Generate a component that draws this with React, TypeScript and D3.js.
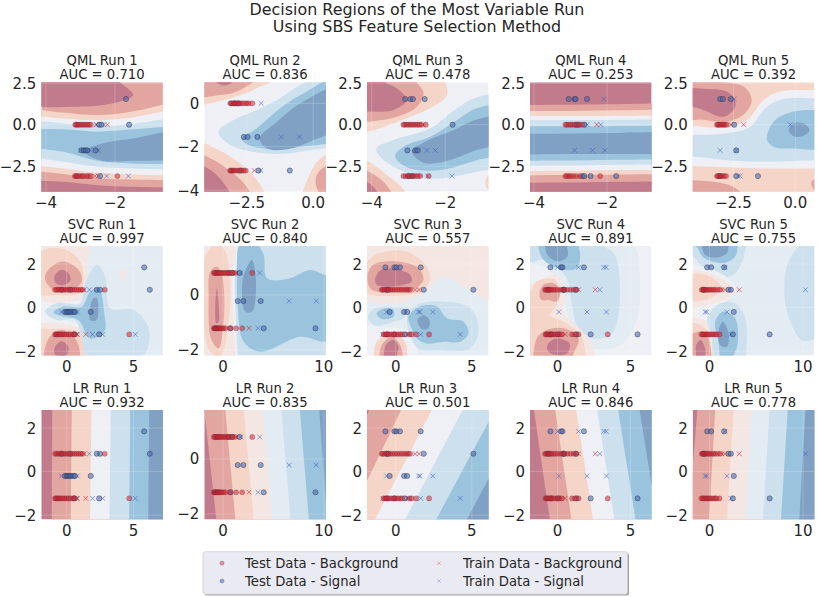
import React from "react";
import * as d3 from "d3";

// colours of the filled contour levels, seen over the axes background
const levelColors = ["#c27b8c", "#e3a5a0", "#f5d5c8", "#f4e6e3", "#eef0f5", "#e3ebf3", "#cde0ed", "#9ac3de", "#80a0c4"];

type Region = [number, string, number[][]];
// rows of points: [y, [x, x, ...]]
type Rows = [number, number[]][];

// ---- decision regions (level, side to fill, boundary)
const qml1Regions: Region[] = [
    [0, "c", [[-4.56, 1.39], [-3.11, 1.09], [-2.05, 1.29], [-1.47, 1.79], [-1.76, 2.4], [-2.14, 2.9], [-4.56, 3.1]]],
    [2, "b", [[-4.5, .99], [-3.5, .73], [-2.5, .58], [-1.5, .79], [-.3, 1.39]]],
    [4, "b", [[-4.5, .58], [-3.5, .38], [-2.5, .28], [-1.5, .44], [-.3, .93]]],
    [6, "b", [[-4.5, .28], [-3.5, .08], [-2.5, -.08], [-1.5, .04], [-.3, .44]]],
    [7, "b", [[-4.5, -.22], [-3.5, -.28], [-2.5, -.42], [-1.5, -.28], [-.3, -.08]]],
    [8, "c", [[.46, -.32], [-1.47, -.83], [-2.43, -1.17], [-2.87, -1.63], [-2.43, -2.14], [-1.47, -2.18], [.46, -1.73]]],
    [6, "b", [[-4.5, -1.37], [-3.5, -1.63], [-2.5, -2.18], [-1.5, -2.34], [-.3, -2.38]]],
    [4, "b", [[-4.5, -1.94], [-3.5, -2.24], [-2.5, -2.54], [-1.5, -2.64], [-.3, -2.7]]],
    [2, "b", [[-4.5, -2.38], [-3.5, -2.64], [-2.5, -2.9], [-1.5, -3.0], [-.3, -3.04]]],
    [1, "b", [[-4.5, -2.74], [-3.5, -2.98], [-2.5, -3.25], [-1.5, -3.31], [-.3, -3.35]]],
    [0, "b", [[-4.5, -3.35], [-3.5, -3.45], [-2.5, -3.65], [-1.5, -3.75], [-.3, -3.79]]],
];
const qml2Regions: Region[] = [
    [2, "c", [[-4.77, 0], [-3.13, .23], [-2.12, .69], [-1.36, 1.23], [-3.0, 2.0], [-4.77, 2.0]]],
    [1, "c", [[-4.77, .38], [-3.51, .38], [-2.75, .62], [-2.12, 1.23], [-3.0, 2.0], [-4.77, 2.0]]],
    [0, "c", [[-3.76, 1.15], [-3.38, .82], [-3.0, 1.0], [-2.75, 1.38], [-3.38, 1.69]]],
    [6, "c", [[-3.57, -1.31], [-3.0, -.77], [-2.25, -.38], [-1.36, .15], [-.48, .85], [1.41, 1.69], [1.41, -1.54], [-.48, -2.23], [-1.74, -2.31], [-3.13, -1.92]]],
    [7, "c", [[-2.69, -1.62], [-2.12, -1.15], [-1.24, -.23], [-.48, .38], [1.41, 1.38], [1.41, -1.38], [-.48, -2], [-1.74, -2.08], [-2.44, -1.92]]],
    [8, "c", [[-2.02, -1.62], [-1.36, -.85], [-.48, 0], [1.41, .92], [1.41, -.77], [.03, -1.69], [-.98, -2.12], [-1.74, -2.08]]],
    [2, "c", [[-4.9, -1.46], [-4.12, -1.82], [-3.0, -2.54], [-2.12, -3.54], [-1.62, -5.08], [-4.9, -5.08]]],
    [1, "c", [[-4.9, -2], [-4.12, -2.38], [-3.26, -3], [-2.5, -3.85], [-2.12, -5.08], [-4.9, -5.08]]],
    [0, "c", [[-4.9, -2.46], [-4.12, -2.89], [-3.51, -3.46], [-2.88, -5.08], [-4.9, -5.08]]],
    [2, "c", [[1.41, -2.15], [.28, -2.54], [-.16, -3.38], [-.48, -5.08], [1.41, -5.08]]],
    [1, "c", [[1.41, -2.77], [.34, -3], [.09, -3.54], [.34, -4.31], [1.41, -4.77]]],
];
const qml3Regions: Region[] = [
    [2, "c", [[-4.68, -.42], [-4.13, -.42], [-3.14, .32], [-2.41, .99], [-1.95, 1.79], [-2, 2.56], [-2.23, 3.31], [-4.68, 3.31]]],
    [1, "c", [[-4.68, .18], [-4.13, .18], [-3.32, .48], [-2.77, 1.09], [-2.59, 1.9], [-2.77, 2.56], [-2.95, 3.31], [-4.68, 3.31]]],
    [0, "c", [[-4.68, .83], [-4.13, .79], [-3.41, .89], [-3.05, 1.49], [-3.32, 2.2], [-3.64, 2.56], [-3.95, 3.31], [-4.68, 3.31]]],
    [6, "c", [[-3.88, -1.43], [-3.41, -.93], [-2.41, -.22], [-1.68, .99], [-1.14, 1.65], [-.05, 1.79], [-.05, -2.14], [-1.14, -2.84], [-2.41, -3.25], [-3.32, -2.64], [-3.77, -1.94]]],
    [7, "c", [[-3.36, -1.83], [-3.05, -1.23], [-2.41, -.73], [-1.68, .28], [-1.14, .99], [-.05, 1.19], [-.05, -1.43], [-1.14, -2.14], [-2.14, -2.74], [-2.95, -2.64], [-3.27, -2.24]]],
    [8, "c", [[-2.91, -1.63], [-2.55, -1.03], [-1.77, -.32], [-1.14, .32], [-.05, .58], [-.05, -.73], [-1.14, -1.53], [-2.05, -2.24], [-2.59, -2.3]]],
    [2, "c", [[-4.68, -1.73], [-4.13, -2.18], [-3.59, -3.04], [-3.09, -4.05], [-2.9, -5.36], [-4.68, -5.36]]],
    [1, "c", [[-4.68, -2.44], [-4.13, -2.78], [-3.68, -3.45], [-3.41, -4.35], [-3.3, -5.36], [-4.68, -5.36]]],
    [0, "c", [[-4.68, -3.15], [-4.13, -3.45], [-3.86, -4.05], [-3.77, -5.36], [-4.68, -5.36]]],
    [2, "c", [[-.05, -2.54], [-.82, -3.04], [-.91, -3.55], [-.82, -3.95], [-.05, -4.56]]],
];
const qml4Regions: Region[] = [
    [1, "b", [[-4.5, 1.17], [-3.5, 1.2], [-2.5, 1.22], [-1.5, 1.25], [-.3, 1.3]]],
    [2, "b", [[-4.5, .83], [-3.5, .83], [-2.5, .85], [-1.5, .87], [-.3, .92]]],
    [4, "b", [[-4.5, .52], [-3.5, .52], [-2.5, .52], [-1.5, .54], [-.3, .58]]],
    [6, "b", [[-4.5, .28], [-3.5, .27], [-2.5, .28], [-1.5, .3], [-.3, .32]]],
    [7, "b", [[-4.5, -.08], [-3.5, -.1], [-2.5, -.1], [-1.5, -.08], [-.3, -.05]]],
    [8, "b", [[-4.5, -.55], [-3.5, -.55], [-2.5, -.52], [-1.5, -.48], [-.3, -.44]]],
    [7, "b", [[-4.5, -1.8], [-3.5, -1.78], [-2.5, -1.77], [-1.5, -1.77], [-.3, -1.77]]],
    [6, "b", [[-4.5, -2.18], [-3.5, -2.16], [-2.5, -2.14], [-1.5, -2.12], [-.3, -2.1]]],
    [4, "b", [[-4.5, -2.5], [-3.5, -2.46], [-2.5, -2.44], [-1.5, -2.42], [-.3, -2.4]]],
    [2, "b", [[-4.5, -2.82], [-3.5, -2.78], [-2.5, -2.76], [-1.5, -2.74], [-.3, -2.72]]],
    [1, "b", [[-4.5, -3.08], [-3.5, -3.04], [-2.5, -3.02], [-1.5, -3.0], [-.3, -2.98]]],
    [0, "b", [[-4.5, -3.52], [-3.5, -3.49], [-2.5, -3.47], [-1.5, -3.45], [-.3, -3.42]]],
];
const qml5Regions: Region[] = [
    [4, "b", [[-5, -.08], [-4.15, -.08], [-2.77, -.16], [-1.96, .28], [-1.28, 1.49], [-.61, 2], [.77, 2.1], [1.5, 2.1]]],
    [6, "b", [[-5, -.62], [-4.15, -.62], [-2.77, -.52], [-1.82, -.12], [-1.15, 1.09], [-.34, 1.59], [.77, 1.59], [1.5, 1.59]]],
    [4, "b", [[-5, -1.94], [-4.15, -1.94], [-2.77, -2.14], [-1.42, -2.24], [.77, -2.14], [1.5, -2.14]]],
    [2, "b", [[-5, -2.5], [-4.15, -2.5], [-1.42, -2.64], [.77, -2.64], [1.5, -2.64]]],
    [7, "c", [[-1.15, -.83], [-.81, .28], [-.07, .79], [.77, .89], [1.28, .85], [1.28, -1.33], [-.07, -1.43], [-.88, -1.33]]],
    [8, "c", [[-.27, -.32], [-.07, .08], [.34, .08], [.57, -.32], [.34, -.67], [-.07, -.69]]],
    [1, "c", [[-4.93, .28], [-3.85, .32], [-2.77, .18], [-2.03, .69], [-1.76, 1.49], [-2.09, 2.3], [-3.45, 2.6], [-4.93, 2.5]]],
    [0, "c", [[-4.93, 1.59], [-3.72, .89], [-2.9, .48], [-2.43, 1.09], [-2.5, 1.69], [-2.9, 2.06], [-3.58, 2.16], [-4.93, 2.1]]],
    [1, "c", [[-5, -3.35], [-4.15, -3.35], [-2.77, -3.6], [-2.2, -4.1], [-2, -5], [-5, -5]]],
    [1, "c", [[1.5, -3.3], [.7, -3.35], [.65, -3.6], [.77, -3.95], [1.5, -4.1]]],
];
const svc1Regions: Region[] = [
    [4, "c", [[-2.5, .12], [-.75, .35], [.75, .43], [1.25, .12], [0, -.57], [1.25, -.8], [-2.5, -.88]]],
    [3, "c", [[-2.5, .5], [1.38, .5], [1.55, 1.66], [1.5, 3.5], [-2.5, 3.5]]],
    [3, "c", [[-2.5, -.88], [.75, -.88], [1.63, -1.42], [1.63, -2.95], [-2.5, -2.95]]],
    [2, "c", [[-2.5, .7], [-.75, .58], [1, .66], [1.25, 1.2], [1, 2.12], [-.25, 2.7], [-1.9, 2.58]]],
    [1, "c", [[-1.63, 1.35], [-1.25, 1.82], [-.25, 2.12], [.88, 1.74], [1.13, 1.2], [.38, .82], [-1, .82]]],
    [0, "c", [[-.93, 1.43], [-.38, 1.74], [.13, 1.58], [.3, 1.28], [-.13, 1.05], [-.75, 1.08]]],
    [2, "c", [[-2.5, -1.1], [-1.25, -.98], [1, -1.18], [1.38, -2.22], [1, -2.95], [-2.5, -2.95]]],
    [1, "c", [[-1.63, -1.88], [-1.25, -1.34], [-.38, -1.03], [.63, -1.42], [1, -2.22], [.5, -2.95], [-1.63, -2.95]]],
    [0, "c", [[-.88, -1.8], [-.38, -1.54], [.13, -1.8], [0, -2.18], [-.88, -2.15]]],
    [6, "c", [[-1.63, -.18], [-.75, .2], [1, .2], [1.38, 1.12], [2.25, 1.97], [2.88, 1.43], [3.25, -.03], [5, -.11], [6.13, -.95], [5.75, -2.18], [1.5, -2.22], [1.13, -1.42], [.63, -.57], [-.75, -.57]]],
    [7, "c", [[-1, -.22], [-.25, .05], [1.13, .05], [1.75, .74], [2.38, .89], [2.83, -.34], [2.83, -1.08], [1.75, -1.42], [.88, -.57], [-.13, -.42]]],
    [8, "c", [[1.7, -.26], [2, .43], [2.25, .43], [2.25, -.57], [1.75, -.57]]],
    [3, "c", [[4, 1.51], [4.2, 1.78], [4.43, 1.51], [4.2, 1.2]]],
];
const svc2Regions: Region[] = [
    [4, "c", [[-3.9, 2.55], [1.2, 2.55], [1.16, .36], [1.46, -2.21], [1.46, -3.03], [-3.9, -3.03]]],
    [3, "c", [[-3.9, 2.55], [.95, 2.55], [.89, .24], [1.23, -2.21], [1.23, -3.03], [-3.9, -3.03]]],
    [2, "c", [[-1.85, 1.33], [-1.26, 1.7], [-.6, 1.88], [.23, 1.58], [.73, .24], [.56, -.97], [-.26, -2.21], [-1.26, -2.06], [-1.85, -1.33], [-2.3, 0]]],
    [1, "c", [[-1.42, -.12], [-1.26, .85], [-.6, 1.03], [-.1, .73], [.13, -.12], [0, -1.21], [-.43, -1.94], [-1.19, -1.58]]],
    [0, "c", [[-.76, -.36], [-.6, .24], [-.43, -.36], [-.43, -.97], [-.66, -1.03]]],
    [7, "c", [[1.56, 1.78], [2.5, 2.2], [3.54, 1.78], [4.04, 1.45], [4.37, .61], [6.36, .58], [8.68, .91], [10.2, .73], [12.3, .85], [12.3, -1.33], [10.2, -1.7], [7.68, -1.52], [3.71, -2.06], [2.05, -1.7], [1.46, -.36], [1.39, .85]]],
    [8, "c", [[1.89, .36], [2.32, .97], [2.88, 1.27], [3.28, .36], [2.88, -.61], [2.22, -.61]]],
];
const svc3Regions: Region[] = [
    [4, "c", [[-3.22, -.88], [-1, -.88], [1.05, -1.18], [1.2, -3], [-3.22, -3]]],
    [3, "t", [[-3.22, .28], [-1.89, .28], [.07, .2], [1.82, .66], [3.14, 1.43], [4.45, .97], [6.1, .28], [7.74, -.2]]],
    [2, "c", [[-1.89, .66], [-3.22, 1], [-1.89, 2.12], [-1.03, 2.51], [.72, 2.58], [2.04, 1.89], [2.26, 1.28], [1.6, .74], [.07, .55], [-1.25, .55]]],
    [1, "c", [[-1.87, 1.43], [-1.47, 1.97], [.07, 2.12], [1.49, 1.82], [1.82, 1.28], [1.27, .89], [-.37, .74], [-1.58, .82]]],
    [0, "c", [[-1.36, 1.28], [-1.03, 1.71], [-.15, 1.78], [.94, 1.51], [1.05, 1.2], [.5, 1.05], [-.59, .97], [-1.25, 1.05]]],
    [2, "c", [[-1.47, -2.22], [-1.25, -1.57], [-.26, -1.18], [.61, -1.57], [.77, -2.22], [.9, -3], [-1.6, -3]]],
    [1, "c", [[-1.07, -2.22], [-.92, -1.72], [-.26, -1.34], [.29, -1.72], [.46, -2.22], [.5, -3], [-1.1, -3]]],
    [0, "c", [[-.77, -2.03], [-.59, -1.65], [-.15, -1.49], [.18, -1.8], [.07, -2.22], [.1, -2.6], [-.7, -2.6]]],
    [6, "c", [[-1.84, -.42], [-1.36, -.03], [.07, .02], [.83, -.03], [.5, -.49], [-.15, -.65], [-1.25, -.83], [-1.69, -.65]]],
    [6, "c", [[.77, -.34], [1.38, .12], [3.14, .28], [4.89, -.03], [5.44, -.95], [4.89, -1.88], [2.92, -1.95], [1.49, -1.88], [.94, -1.26]]],
    [7, "c", [[-1.25, -.26], [-.7, -.03], [-.15, -.11], [-.15, -.42], [-.92, -.52]]],
    [7, "c", [[.83, -.42], [1.6, .05], [2.7, .05], [3.36, -.49], [4.45, -.65], [4.78, -1.18], [4.23, -1.57], [3.14, -1.57], [2.04, -1.65], [1.38, -1.42], [1.05, -.95]]],
    [8, "c", [[1.43, -.57], [1.82, -.34], [2.21, -.57], [2.15, -.95], [1.71, -.98]]],
];
const svc4Regions: Region[] = [
    [5, "c", [[-1.88, 2.12], [-.73, 1.82], [.18, 1.05], [.64, -.18], [1.33, -1.42], [2.48, -1.88], [4.31, -1.72], [5.46, -.49], [5.57, 2.12], [5.34, 2.85], [5.34, 3.5], [-1.88, 3.5]]],
    [6, "c", [[-1.88, 2.12], [-.85, 2.2], [.64, 1.35], [.99, .12], [1.44, -.95], [2.48, -1.42], [3.62, -1.26], [4.13, -.49], [4.2, 1.66], [3.85, 2.51], [3.17, 2.85], [3.17, 3.5], [-1.88, 3.5]]],
    [7, "c", [[-1.31, 2.85], [-.96, 2.2], [.41, 1.74], [1.33, 1.82], [1.56, 2.43], [1.44, 2.85], [1.44, 3.5], [-1.31, 3.5]]],
    [8, "c", [[-.85, 2.85], [-.62, 2.36], [.07, 2.12], [.69, 2.36], [.64, 2.82], [.41, 3.2], [-.73, 3.2]]],
    [3, "c", [[-3.03, 1.1], [-1.88, 1.1], [-.05, 1.51], [.53, .74], [.41, -.18], [.87, -.57], [2.25, -1.57], [2.48, -3], [-3.03, -3]]],
    [2, "c", [[-3.03, .74], [-1.88, .74], [-1.42, 1.2], [-.28, 1.32], [.18, .82], [-.05, .12], [-.5, -.34], [.41, -.65], [1.56, -1.26], [1.9, -2.03], [1.9, -3], [-3.03, -3]]],
    [1, "c", [[-1.24, .66], [-.96, 1.05], [-.28, 1.12], [.18, .82], [-.05, .28], [-.62, .35], [-1.1, .35]]],
    [1, "c", [[-1.42, -1.42], [-.73, -1.03], [.41, -.95], [1.44, -1.42], [1.06, -2.22], [1.06, -3], [-1.42, -3]]],
    [0, "c", [[-.69, -1.72], [-.05, -1.42], [.83, -1.65], [.64, -2.11], [-.05, -2.18], [-.62, -2.03]]],
];
const svc5Regions: Region[] = [
    [6, "c", [[-3.14, 2.43], [-1.79, 2.36], [-.64, 1.82], [1.5, 1.35], [2.93, 1.66], [3.93, 2.82], [4, 3.5], [-3.14, 3.5]]],
    [7, "c", [[-3.14, 2.85], [-1.54, 2.85], [-.64, 2.3], [1.5, 2.05], [2.75, 2.35], [3, 2.85], [3, 3.5], [-3.14, 3.5]]],
    [8, "c", [[-.82, 2.85], [-.46, 2.43], [.79, 2.3], [1.86, 2.5], [2.04, 2.85], [2.04, 3.5], [-.82, 3.5]]],
    [4, "c", [[-3.14, 1.8], [.07, 1.8], [2.75, .9], [.61, -.11], [-3.14, -.49]]],
    [3, "c", [[-3.14, 1.6], [.07, 1.58], [2.75, .74], [.07, .12], [-1.79, -.03], [-3.14, -.2]]],
    [2, "c", [[-3.14, .28], [-1.79, 1.51], [.07, 1.43], [1.32, .89], [.07, .43], [-1.79, .28]]],
    [4, "c", [[-3.14, -.2], [-.5, -.25], [2, -.9], [2, -3], [-3.14, -3]]],
    [3, "c", [[-3.14, -.4], [-1.79, -.42], [.5, -.8], [1.14, -1.5], [1.14, -3], [-3.14, -3]]],
    [2, "c", [[-3.14, -.8], [-1.79, -.69], [-.29, -1.03], [.25, -2.22], [.25, -3], [-3.14, -3]]],
    [1, "c", [[-3.14, -1.26], [-1.79, -1.18], [-.82, -1.1], [-.11, -1.42], [-.11, -3], [-3.14, -3]]],
    [0, "c", [[-1.43, -2.22], [-1.43, -1.72], [-.93, -1.49], [-.46, -1.88], [-.46, -2.22], [-.46, -3], [-1.43, -3]]],
    [6, "c", [[-.18, -.42], [1.14, .2], [2.75, .2], [3.82, -.49], [3.93, -2.22], [3.9, -3], [.79, -3], [.25, -1.42]]],
    [7, "c", [[.61, -.65], [1.5, -.18], [2.75, -.49], [3, -1.72], [2.57, -2.22], [2.5, -3], [1.5, -3], [.96, -1.57]]],
    [8, "c", [[.96, -1.1], [1.43, -.65], [2.04, -1.18], [1.86, -1.8], [1.14, -1.72]]],
    [6, "c", [[8, .74], [8.46, 2.12], [10.07, 2.93], [12.57, 2.7], [13.29, .74], [12.57, -.95], [10.07, -1.54], [8.64, -.65]]],
];

// LR runs: stripes of constant level, [level, x at the top edge, x at the bottom edge]
const lr1Stripes = [[1, -1.08, -1.12], [2, .38, .3], [4, 1.85, 1.75], [6, 3.3, 3.2], [7, 4.75, 4.68], [8, 6.18, 6.1]];
const lr2Stripes = [[1, -1.85, -.66], [2, .23, 1.23], [3, 2.05, 3.05], [5, 3.94, 4.87], [6, 5.8, 6.69], [7, 7.62, 8.51], [8, 9.54, 10.33]];
const lr3Stripes = [[1, -1.73, -5.2], [2, .35, -3.11], [4, 2.37, -1.36], [6, 4.39, .61], [7, 6.51, 2.65], [8, 8.51, 4.67]];
const lr4Stripes = [[1, -1.61, -.52], [2, -.16, .96], [4, 1.28, 2.43], [6, 2.71, 3.9], [7, 4.15, 5.34], [8, 5.62, 6.83]];
const lr5Stripes = [[1, -1.29, -2.25], [2, .61, -.04], [3, 2.57, 1.86], [5, 4.5, 3.82], [6, 6.43, 5.71], [7, 8.36, 7.64], [8, 10.25, 9.6]];

// ---- scatter points
const qml1TestBg: Rows = [[0, [-3.15, -3.12, -3.08, -3.05, -3, -2.95, -2.9, -2.85, -2.8, -2.75, -2.7]], [-3.1, [-3.16, -3.13, -3.1, -3.06, -3, -2.95, -2.9, -2.82, -2.76, -2.7, -1.93]]];
const qml1TestSig: Rows = [[1.55, [-1.68]], [0, [-2.46, -2.39, -1.59]], [-1.55, [-2.97, -2.9, -2.85, -2.8, -2.56]], [-3.1, [-2.43]]];
const qml1TrainBg: Rows = [[0, [-2.53, -2.22]], [-3.1, [-2.58, -2.48]]];
const qml1TrainSig: Rows = [[0, [-2.55, -2.32]], [-1.55, [-3, -2.72, -2.48]], [-3.1, [-2.24, -1.61]]];

const qml2TestBg: Rows = [[0, [-3.12, -3.08, -3.03, -2.98, -2.92, -2.85, -2.78, -2.7, -2.62, -2.52, -2.44, -2.29]], [-3.1, [-3.13, -3.09, -3.05, -3, -2.95, -2.88, -2.8, -2.7, -2.62, -2.54]]];
const qml2TestSig: Rows = [[0, [-2.95, -2.82]], [-1.55, [-2.61, -2.47, -2.1]], [-3.1, [-2.75, -2.06, -.88]]];
const qml2TrainBg: Rows = [[0, [-2.44]], [-3.1, [-2.22]]];
const qml2TrainSig: Rows = [[0, [-1.96]], [-1.55, [-1.2, -.52]], [-3.1, [-1.97]]];

const qml3TestBg: Rows = [[0, [-3.14, -3.1, -3.05, -3, -2.95, -2.9, -2.85, -2.8, -2.75, -2.7, -2.65, -2.53]], [-3.1, [-3.14, -3.08, -3.02, -2.97, -2.92, -2.86, -2.8, -2.74, -2.68, -2.45]]];
const qml3TestSig: Rows = [[1.55, [-3.09, -2.95, -2.88, -2.56]], [0, [-1.8]], [-1.55, [-3.03, -2.82, -2.75]], [-3.1, [-3, -2.9]]];
const qml3TrainBg: Rows = [[0, [-2.6]]];
const qml3TrainSig: Rows = [[0, [-3.02]], [-1.55, [-2.5, -2.27]], [-3.1, [-2.48, -1.82]]];

const qml4TestBg: Rows = [[0, [-3.14, -3.1, -3.05, -3, -2.95, -2.9, -2.82, -2.75, -2.68]], [-3.1, [-3.14, -3.1, -3.05, -3, -2.93, -2.85, -2.75, -2.19]]];
const qml4TestSig: Rows = [[1.55, [-3.05, -2.89, -2.86, -2.55]], [0, [-2.85, -2.78, -2.62]], [-3.1, [-2.68, -2.62, -2.45, -1.75]]];
const qml4TrainBg: Rows = [[0, [-2.28]]];
const qml4TrainSig: Rows = [[0, [-2.55, -2.17]], [1.55, [-2.09]], [-1.55, [-2.89, -2.4, -2.06]]];

const qml5TestBg: Rows = [[0, [-3.17, -3.12, -3.08, -3.02, -2.96, -2.9, -2.85, -2.78]], [-3.1, [-3.17, -3.12, -3.07, -3.02, -2.95, -2.88, -2.8]]];
const qml5TestSig: Rows = [[1.55, [-3.04, -2.93, -2.61]], [0, [-2.47]], [-1.55, [-2.39]], [-3.1, [-3.05, -2.39, -1.51]]];
const qml5TrainBg: Rows = [[0, [-2.6, -2.09]]];
const qml5TrainSig: Rows = [[1.55, [-2.47]], [0, [-.2]], [-1.55, [-3.04, -2.39]], [-3.1, [-2.23, -2.32]]];

const run1TestBg: Rows = [[.82, [-.87, -.75, -.62, -.5, -.35, -.2, -.05, .1, .3, .45, .6, .75, .9, 1.05, 1.2, 2.85]], [-1.23, [-.87, -.8, -.72, -.62, -.52, -.42, -.3, -.15, 0, .15, .3, .5, .62, 4.68]]];
const run1TestSig: Rows = [[1.85, [5.8]], [.82, [-.37, .25, 2.25, 2.5, 6.22]], [-.2, [-.12, 0, .1, .22, .35, .5, .62, 1.8]], [-1.23, [.55, 2.43]]];
const run1TrainBg: Rows = [[.82, [1.3]], [-1.23, [.8, 1.43]]];
const run1TrainSig: Rows = [[.82, [1.7]], [-.2, [-.4, .8]], [-1.23, [.75, 1.93, 2.7, 5.13]]];

const run2TestBg: Rows = [[.8, [-.9, -.8, -.7, -.6, -.5, -.4, -.3, -.15, 0, .15, .3, .5, .7, .95, 1.2, 2.9]], [-1.21, [-.9, -.82, -.75, -.68, -.6, -.52, -.44, -.35, -.25, -.1, .05, .25, .7, 1.3, 1.9]]];
const run2TestSig: Rows = [[.8, [.55, .9, 1.65]], [-.22, [1.46, 2.02, 3.74]], [-1.21, [.75, 4.04, 9.17]]];
const run2TrainBg: Rows = [[.8, [1.3]], [-1.21, [2.58]]];
const run2TrainSig: Rows = [[.8, [1.75, 3.64]], [-.22, [6.56, 9.24]], [-1.21, [3.48]]];

const run3TestBg: Rows = [[.82, [-.92, -.85, -.75, -.62, -.5, -.35, -.2, -.05, .1, .25, .4, .55, .7, .82, .94]], [-1.23, [-.8, -.7, -.6, -.45, -.3, -.15, 0, .15, .3, .42, .9, 1.05, 1.34, 2.19]]];
const run3TestSig: Rows = [[1.85, [-.68, -.09, .04, .28, 1.64]], [.82, [-.6, -.48, 1.84, 5.1]], [-.2, [-.4, .55, .75]], [-1.23, [-.55, -.1, .6]]];
const run3TrainBg: Rows = [[.82, [1.27, 1.53]], [-1.23, [.75]]];
const run3TrainSig: Rows = [[-.2, [-.6, 1.5, 1.6, 2.43]], [-1.23, [-.85, .85, 1.64, 4.23]]];

const run4TestBg: Rows = [[.82, [-.85, -.78, -.7, -.62, -.52, -.42, -.3, -.15, 0, .2, .35, .5, .7, .9, 1.1, 1.3]], [-1.23, [-.82, -.75, -.68, -.6, -.5, -.4, -.28, -.15, 0, .15, .3, 1.0, 1.2, 1.44, 3.44]]];
const run4TestSig: Rows = [[1.85, [-.48, .25, .34, 1.81]], [.82, [-.6, .4, .46, 1.25]], [-1.23, [-.45, .05, 1.3, 2.27, 5.48]]];
const run4TrainBg: Rows = [[.82, [1.44, 2.59]], [-1.23, [.52]]];
const run4TrainSig: Rows = [[1.85, [0, 1.44, 3.17, 3.33]], [.82, [2.89]], [-.2, [.09, 2.02, 3.35]]];

const run5TestBg: Rows = [[.82, [-.82, -.7, -.6, -.45, -.3, -.15, 0, .2, .4, .6, .85, 1.14]], [-1.23, [-.85, -.72, -.6, -.45, -.3, -.15, 0, .2, .4, .6, .75, 1.07]]];
const run5TestSig: Rows = [[1.85, [-.25, .18, 1.57]], [.82, [-.6, 2.04, 2.29]], [-.2, [2.6]], [-1.23, [2.5, 6.43]]];
const run5TrainBg: Rows = [[.82, [1.32, 1.65, 3.18]]];
const run5TrainSig: Rows = [[1.85, [1.65]], [.82, [10.25]], [-.2, [-.46, -.29, 1.86]], [-1.23, [2.29]]];

const aucQml = [0.710, 0.836, 0.478, 0.253, 0.392];
const aucSvc = [0.997, 0.840, 0.557, 0.891, 0.755];
const aucLr = [0.932, 0.835, 0.501, 0.846, 0.778];

const qmlXLims = [[-4.135, -.61], [-4.1, .48], [-4.13, -.82], [-4.11, -.78], [-4.15, .77]];
const qmlYLims = [[-4.05, 2.56], [-4.08, .97], [-4.05, 2.56], [-4.05, 2.56], [-4.05, 2.56]];
const qmlXTicks = [[-4, -2], [-2.5, 0], [-4, -2], [-4, -2], [-2.5, 0]];
const qmlYTicks = [[-2.5, 0, 2.5], [-4, -2, 0], [-2.5, 0, 2.5], [-2.5, 0, 2.5], [-2.5, 0, 2.5]];
const runXLims = [[-1.9, 7.2], [-1.85, 10.2], [-1.89, 6.1], [-1.88, 6.44], [-1.79, 11.2]];
const runYLims = [[-2.2, 2.83], [-2.2, 1.78], [-2.2, 2.83], [-2.2, 2.83], [-2.2, 2.83]];
const runXTicks = [[0, 5], [0, 10], [0, 5], [0, 5], [0, 10]];
const runYTicks = [[-2, 0, 2], [-2, 0], [-2, 0, 2], [-2, 0, 2], [-2, 0, 2]];

const qmlRegions = [qml1Regions, qml2Regions, qml3Regions, qml4Regions, qml5Regions];
const qmlBases = [1, 4, 4, 0, 2];
const svcRegions = [svc1Regions, svc2Regions, svc3Regions, svc4Regions, svc5Regions];
const svcBases = [5, 6, 5, 4, 5];
const lrStripes = [lr1Stripes, lr2Stripes, lr3Stripes, lr4Stripes, lr5Stripes];
const lrBases = [0, 0, 0, 0, 0];

const qmlPoints = [
    [qml1TestBg, qml1TestSig, qml1TrainBg, qml1TrainSig],
    [qml2TestBg, qml2TestSig, qml2TrainBg, qml2TrainSig],
    [qml3TestBg, qml3TestSig, qml3TrainBg, qml3TrainSig],
    [qml4TestBg, qml4TestSig, qml4TrainBg, qml4TrainSig],
    [qml5TestBg, qml5TestSig, qml5TrainBg, qml5TrainSig],
];
const runPoints = [
    [run1TestBg, run1TestSig, run1TrainBg, run1TrainSig],
    [run2TestBg, run2TestSig, run2TrainBg, run2TrainSig],
    [run3TestBg, run3TestSig, run3TrainBg, run3TrainSig],
    [run4TestBg, run4TestSig, run4TrainBg, run4TrainSig],
    [run5TestBg, run5TestSig, run5TrainBg, run5TrainSig],
];

const legendLabels = ["Test Data - Background", "Test Data - Signal", "Train Data - Background", "Train Data - Signal"];

const width = 817;
const height = 597;
const colX = [41.3, 204.3, 367, 530, 692.7];
const rowY = [82.3, 246, 410];
const axW = 121.6;
const axH = 109.5;
const font = "'DejaVu Sans', sans-serif";
const textColor = "#262626";

const redFill = "#d8222f";
const blueFill = "#3f66b4";
const edge = "#2b2b3a";

function flat(rows: Rows) {
    return rows.flatMap(([y, xs]) => xs.map(x => [x, y]));
}

function regionPath(r: Region, sx: d3.ScaleLinear<number, number>, sy: d3.ScaleLinear<number, number>) {
    const [, side, pts] = r;
    if (side === "c") {
        return d3.line<number[]>().x(d => sx(d[0])).y(d => sy(d[1])).curve(d3.curveCatmullRomClosed.alpha(0.5))(pts)!;
    }
    const open = d3.line<number[]>().x(d => sx(d[0])).y(d => sy(d[1])).curve(d3.curveCatmullRom.alpha(0.5))(pts)!;
    const x0 = sx(pts[0][0]), y0 = sy(pts[0][1]);
    const x1 = sx(pts[pts.length - 1][0]), y1 = sy(pts[pts.length - 1][1]);
    if (side === "b") return `${open}L${x1},${axH + 60}L${x0},${axH + 60}Z`;
    if (side === "t") return `${open}L${x1},-60L${x0},-60Z`;
    return `${open}L${axW + 60},${y1}L${axW + 60},${y0}Z`;
}

const crossPath = (cx: number, cy: number, c: number) =>
    `M${cx - c},${cy - c}L${cx + c},${cy + c}M${cx - c},${cy + c}L${cx + c},${cy - c}`;

const Panel: React.FC<{
    id: string; col: number; row: number; title: string; auc: number;
    xLim: number[]; yLim: number[]; xTicks: number[]; yTicks: number[];
    base: number; regions: Region[]; points: Rows[];
}> = ({id, col, row, title, auc, xLim, yLim, xTicks, yTicks, base, regions, points}) => {
    const sx = d3.scaleLinear().domain(xLim).range([0, axW]);
    const sy = d3.scaleLinear().domain(yLim).range([axH, 0]);
    const fmtX = xTicks.some(t => t % 1 !== 0) ? d3.format(".1f") : d3.format("d");
    const fmtY = yTicks.some(t => t % 1 !== 0) ? d3.format(".1f") : d3.format("d");
    const [testBg, testSig, trainBg, trainSig] = points;
    return <g transform={`translate(${colX[col]},${rowY[row]})`}>
        <clipPath id={id}><rect width={axW} height={axH}/></clipPath>
        <text x={axW / 2} y={-17.5} textAnchor="middle" fontSize={13.2} fill={textColor}>{title}</text>
        <text x={axW / 2} y={-3.3} textAnchor="middle" fontSize={13.2} fill={textColor}>{`AUC = ${auc.toFixed(3)}`}</text>
        <g clipPath={`url(#${id})`}>
            <rect width={axW} height={axH} fill={levelColors[base]}/>
            {regions.map((r, i) => <path key={i} d={regionPath(r, sx, sy)} fill={levelColors[r[0]]}/>)}
            {xTicks.map(t => <line key={t} x1={sx(t)} x2={sx(t)} y1={0} y2={axH} stroke="#fff" strokeOpacity={0.2}/>)}
            {yTicks.map(t => <line key={t} x1={0} x2={axW} y1={sy(t)} y2={sy(t)} stroke="#fff" strokeOpacity={0.2}/>)}
        </g>
        <g>
            {flat(trainSig).map((d, i) => <path key={i} d={crossPath(sx(d[0]), sy(d[1]), 2.4)} stroke="#3f66c4" strokeOpacity={0.6} strokeWidth={1} fill="none"/>)}
            {flat(trainBg).map((d, i) => <path key={i} d={crossPath(sx(d[0]), sy(d[1]), 2.4)} stroke="#d8222f" strokeOpacity={0.6} strokeWidth={1} fill="none"/>)}
            {flat(testSig).map((d, i) => <circle key={i} cx={sx(d[0])} cy={sy(d[1])} r={2.6} fill={blueFill} fillOpacity={0.55} stroke={edge} strokeOpacity={0.6} strokeWidth={0.7}/>)}
            {flat(testBg).map((d, i) => <circle key={i} cx={sx(d[0])} cy={sy(d[1])} r={2.6} fill={redFill} fillOpacity={0.55} stroke={edge} strokeOpacity={0.35} strokeWidth={0.6}/>)}
        </g>
        {xTicks.map(t => <text key={t} x={sx(t)} y={axH + 16} textAnchor="middle" fontSize={15} fill={textColor}>{fmtX(t)}</text>)}
        {yTicks.map(t => <text key={t} x={-5} y={sy(t) + 5.5} textAnchor="end" fontSize={15} fill={textColor}>{fmtY(t)}</text>)}
    </g>;
};

function stripeRegions(stripes: number[][], yLim: number[]): Region[] {
    return stripes.map(([level, top, bottom]) => [level, "r", [[top, yLim[1]], [bottom, yLim[0]]]] as Region);
}

const App: React.FC = () => {
    const legendX = [222, 439];
    const legendTextX = [245, 463];
    const legendY = [562.7, 581.5];
    return <svg width={width} height={height} viewBox={`0 0 ${width} ${height}`}
                style={{position: "absolute", left: 0, top: 0, fontFamily: font}}>
        <rect width={width} height={height} fill="#fff"/>
        <text x={417} y={14.5} textAnchor="middle" fontSize={15.9} fill={textColor}>Decision Regions of the Most Variable Run</text>
        <text x={417} y={32} textAnchor="middle" fontSize={15.9} fill={textColor}>Using SBS Feature Selection Method</text>

        {aucQml.map((auc, i) => <Panel key={`q${i}`} id={`clip-q${i}`} col={i} row={0} title={`QML Run ${i + 1}`} auc={auc}
                                       xLim={qmlXLims[i]} yLim={qmlYLims[i]} xTicks={qmlXTicks[i]} yTicks={qmlYTicks[i]}
                                       base={qmlBases[i]} regions={qmlRegions[i]} points={qmlPoints[i]}/>)}
        {aucSvc.map((auc, i) => <Panel key={`s${i}`} id={`clip-s${i}`} col={i} row={1} title={`SVC Run ${i + 1}`} auc={auc}
                                       xLim={runXLims[i]} yLim={runYLims[i]} xTicks={runXTicks[i]} yTicks={runYTicks[i]}
                                       base={svcBases[i]} regions={svcRegions[i]} points={runPoints[i]}/>)}
        {aucLr.map((auc, i) => <Panel key={`l${i}`} id={`clip-l${i}`} col={i} row={2} title={`LR Run ${i + 1}`} auc={auc}
                                      xLim={runXLims[i]} yLim={runYLims[i]} xTicks={runXTicks[i]} yTicks={runYTicks[i]}
                                      base={lrBases[i]} regions={stripeRegions(lrStripes[i], runYLims[i])} points={runPoints[i]}/>)}

        <rect x={204.5} y={553} width={424.5} height={42.5} rx={2.5} fill="#8a8a8a" opacity={0.8}/>
        <rect x={203} y={551.7} width={424.5} height={42.5} rx={2.5} fill="#eaeaf2" stroke="#cfcfd6" strokeWidth={0.8}/>
        <circle cx={legendX[0]} cy={legendY[0] + 0.5} r={2.1} fill={redFill} fillOpacity={0.45} stroke={edge} strokeOpacity={0.4} strokeWidth={0.5}/>
        <circle cx={legendX[0]} cy={legendY[1] - 0.5} r={2.1} fill={blueFill} fillOpacity={0.55} stroke={edge} strokeOpacity={0.4} strokeWidth={0.5}/>
        {[0, 1].map(i => <path key={i} d={crossPath(legendX[1], legendY[i] + (i ? -0.5 : 0.5), 1.8)}
                               stroke={i ? "#3f66c4" : "#d8222f"} strokeOpacity={0.4} strokeWidth={0.8} fill="none"/>)}
        <text x={legendTextX[0]} y={legendY[0] + 5} fontSize={13.2} fill={textColor}>{legendLabels[0]}</text>
        <text x={legendTextX[0]} y={legendY[1] + 4} fontSize={13.2} fill={textColor}>{legendLabels[1]}</text>
        <text x={legendTextX[1]} y={legendY[0] + 5} fontSize={13.2} fill={textColor}>{legendLabels[2]}</text>
        <text x={legendTextX[1]} y={legendY[1] + 4} fontSize={13.2} fill={textColor}>{legendLabels[3]}</text>
    </svg>;
};

export default App;
